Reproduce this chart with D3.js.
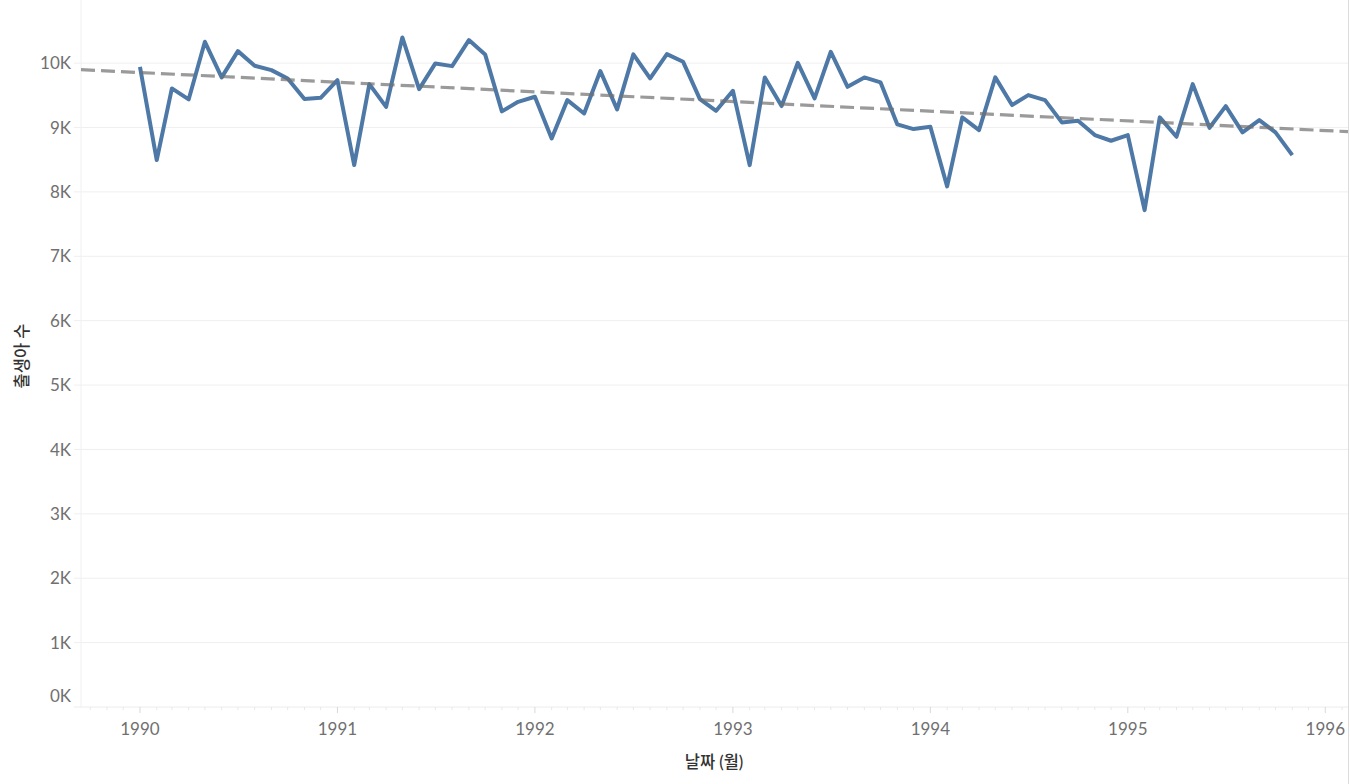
<!DOCTYPE html>
<html>
<head>
<meta charset="utf-8">
<script src="https://cdn.jsdelivr.net/npm/d3@7"></script>
<style>
  body { margin: 0; background: #fff; }
  text { font-family: Lato, "Noto Sans CJK KR", sans-serif; }
</style>
</head>
<body>
<svg width="1350" height="784"></svg>
<script>
// monthly births (Jan..Dec)
const births1990 = [9943, 8494, 9607, 9436, 10331, 9778, 10186, 9958, 9891, 9762, 9441, 9461];
const births1991 = [9736, 8416, 9674, 9321, 10399, 9596, 9995, 9953, 10357, 10135, 9250, 9399];
const births1992 = [9477, 8830, 9425, 9218, 9876, 9281, 10135, 9762, 10140, 10020, 9441, 9259];
const births1993 = [9570, 8416, 9778, 9332, 10005, 9452, 10176, 9632, 9778, 9700, 9048, 8975];
const births1994 = [9011, 8085, 9157, 8960, 9778, 9348, 9503, 9425, 9079, 9104, 8882, 8794];
const births1995 = [8882, 7717, 9157, 8856, 9674, 8995, 9332, 8924, 9115, 8924, 8571];

const years = [1990, 1991, 1992, 1993, 1994, 1995];
const yTicks = [0, 1000, 2000, 3000, 4000, 5000, 6000, 7000, 8000, 9000, 10000];
const xTickYears = [1990, 1991, 1992, 1993, 1994, 1995, 1996];

const svg = d3.select('svg');

const plotLeft = 81, plotRight = 1348, plotTop = 0, plotBottom = 707;

const data = [];
[births1990, births1991, births1992, births1993, births1994, births1995].forEach((arr, i) => {
    arr.forEach((v, m) => data.push({date: new Date(years[i], m, 1), value: v}));
});

const x = d3.scaleTime()
    .domain([new Date(1989, 8, 14), new Date(1996, 1, 12)])
    .range([plotLeft, plotRight]);
const y = d3.scaleLinear()
    .domain([0, 10980])
    .range([plotBottom, plotTop]);

// gridlines
svg.append('g').selectAll('line').data(yTicks.slice(1))
    .enter().append('line')
    .attr('x1', 74).attr('x2', plotRight)
    .attr('y1', d => y(d)).attr('y2', d => y(d))
    .attr('stroke', '#efefef').attr('stroke-width', 1);

// plot frame lines
svg.append('line').attr('x1', plotLeft).attr('x2', plotLeft).attr('y1', 0).attr('y2', plotBottom)
    .attr('stroke', '#f0f0f0');
svg.append('line').attr('x1', plotRight + 0.5).attr('x2', plotRight + 0.5).attr('y1', 0).attr('y2', 784)
    .attr('stroke', '#dcdcdc');

// x axis
const xAxis = svg.append('g').attr('transform', `translate(0,${plotBottom})`);
xAxis.append('line').attr('x1', 74).attr('x2', plotRight).attr('stroke', '#ececec');
const months = d3.timeMonth.range(new Date(1989, 9, 1), new Date(1996, 2, 1));
xAxis.selectAll('.minor').data(months)
    .enter().append('line')
    .attr('class', 'minor')
    .attr('x1', d => x(d)).attr('x2', d => x(d))
    .attr('y1', 0).attr('y2', d => d.getMonth() === 0 ? 6 : 3)
    .attr('stroke', d => d.getMonth() === 0 ? '#d8d8d8' : '#e8e8e8');
xAxis.selectAll('.lbl').data(xTickYears)
    .enter().append('text')
    .attr('class', 'lbl')
    .attr('x', d => x(new Date(d, 0, 1)))
    .attr('y', 28)
    .attr('text-anchor', 'middle')
    .attr('fill', '#707070')
    .attr('font-size', 17)
    .text(d => d);

// y axis labels
svg.append('g').selectAll('text').data(yTicks)
    .enter().append('text')
    .attr('x', 71)
    .attr('y', d => d === 0 ? y(d) - 11 : y(d))
    .attr('dy', '0.36em')
    .attr('text-anchor', 'end')
    .attr('fill', '#707070')
    .attr('font-size', 17)
    .text(d => (d / 1000) + 'K');

// titles
svg.append('text')
    .attr('transform', 'translate(22,356) rotate(-90)')
    .attr('text-anchor', 'middle')
    .attr('dy', '0.35em')
    .attr('fill', '#333')
    .attr('font-size', 16.5)
    .attr('font-weight', 500)
    .text('출생아 수');
svg.append('text')
    .attr('x', 714).attr('y', 762)
    .attr('text-anchor', 'middle')
    .attr('dy', '0.35em')
    .attr('fill', '#333')
    .attr('font-size', 16.5)
    .attr('font-weight', 500)
    .text('날짜 (월)');

// data line
const line = d3.line().x(d => x(d.date)).y(d => y(d.value));
svg.append('path').datum(data)
    .attr('d', line)
    .attr('fill', 'none')
    .attr('stroke', '#4e79a7')
    .attr('stroke-width', 4)
    .attr('stroke-linejoin', 'round');

// linear trend (least squares)
const xs = data.map(d => +d.date), ys = data.map(d => d.value);
const mx = d3.mean(xs), my = d3.mean(ys);
const slope = d3.sum(xs, (v, i) => (v - mx) * (ys[i] - my)) / d3.sum(xs, v => (v - mx) * (v - mx));
const icpt = my - slope * mx;
const ends = x.domain().map(d => ({date: d, value: icpt + slope * (+d)}));
svg.append('path').datum(ends)
    .attr('d', line)
    .attr('fill', 'none')
    .attr('stroke', '#6f6f6f')
    .attr('stroke-opacity', 0.7)
    .attr('stroke-width', 3.2)
    .attr('stroke-dasharray', '14,6');
</script>
</body>
</html>
